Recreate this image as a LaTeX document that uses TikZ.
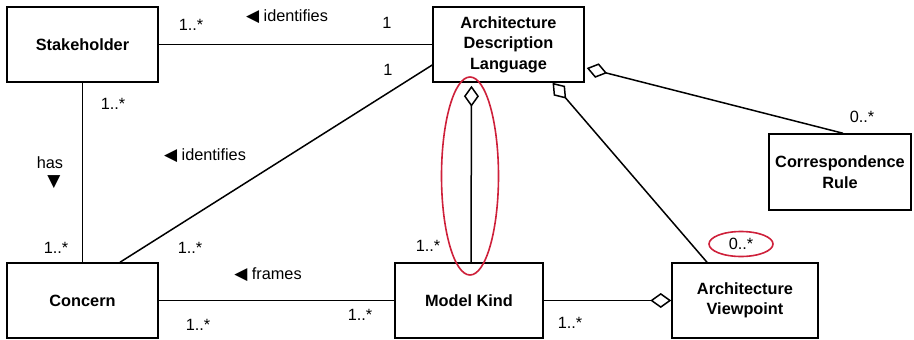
\documentclass[tikz,border=0pt]{standalone}
\usepackage{fontspec}
\setmainfont{Liberation Sans}
\newfontfamily\symfont{DejaVu Sans}
\usetikzlibrary{arrows.meta,calc}
\definecolor{markred}{RGB}{206,32,58}
% direction markers next to association names
\newcommand{\dirleft}{{\symfont\fontsize{17}{19}\selectfont ◀}}
\newcommand{\dirdown}{{\symfont\fontsize{17}{19}\selectfont ▼}}
\begin{document}
\begin{tikzpicture}[x=1pt,y=-1pt,
  every node/.style={font=\fontsize{16.3}{19}\selectfont},
  cls/.style={draw, line width=1.5pt, fill=white, align=center, inner sep=0pt,
              font=\fontsize{16.3}{20.5}\selectfont\bfseries},
  assoc/.style={line width=1.5pt},
  agg/.style={-{Diamond[open,length=21pt,width=15pt]}},
  mult/.style={inner sep=0pt},
  hl/.style={draw=markred, line width=1.6pt}]
\useasboundingbox (0,0) rectangle (914,340);

% classes
\node[cls, minimum width=151, minimum height=75] (stake) at (82.5,44.5) {Stakeholder};
\node[cls, minimum width=151, minimum height=75] (adl) at (508.5,44.5) {Architecture\\Description\\Language};
\node[cls, minimum width=142, minimum height=76] (corr) at (840,172) {Correspondence\\Rule};
\node[cls, minimum width=151, minimum height=75] (concern) at (82.5,300.5) {Concern};
\node[cls, minimum width=148, minimum height=75] (model) at (469,300.5) {Model Kind};
\node[cls, minimum width=146, minimum height=75] (vp) at (745,300.5) {Architecture\\Viewpoint};

% associations
\draw[assoc] (stake) -- (adl);
\draw[assoc] (stake) -- (concern);
\draw[assoc] ($(adl.west)+(0,20.5)$) -- ($(concern.north)+(37.5,0)$);
\draw[assoc] (concern) -- (model);

% aggregations (hollow diamond at the whole)
\draw[assoc,agg] (model) -- (vp);
\draw[assoc,agg] ($(model.north)+(2,0)$) -- ($(adl.south)+(-37,3)$);
\draw[assoc,agg] ($(vp.north)+(-38,0)$) -- ($(adl.south)+(44,0)$);
\draw[assoc,agg] ($(corr.north)+(3,0)$) -- ($(adl.east)+(2,23.5)$);

% association names
\node (lid1) at (287,17) {\dirleft{} identifies};
\node (lid2) at (205,156) {\dirleft{} identifies};
\node (lhas) at (50,163) {has};
\node (lhasdir) at (54,182) {\dirdown};
\node (lframes) at (268,275) {\dirleft{} frames};

% multiplicities
\node[mult] (m1) at (191,25) {1..*};
\node[mult] (m2) at (387,23) {1};
\node[mult] (m3) at (388,70) {1};
\node[mult] (m4) at (113,104) {1..*};
\node[mult] (m5) at (56,248) {1..*};
\node[mult] (m6) at (190,248) {1..*};
\node[mult] (m7) at (198,325) {1..*};
\node[mult] (m8) at (360,315) {1..*};
\node[mult] (m9) at (428,246) {1..*};
\node[mult] (m10) at (570,323) {1..*};
\node[mult] (m11) at (741,244) {0..*};
\node[mult] (m12) at (862,117) {0..*};

% red highlights
\draw[hl] (470,176) ellipse [x radius=28.5, y radius=99];
\draw[hl] (m11) ellipse [x radius=32, y radius=12.5];
\end{tikzpicture}
\end{document}
